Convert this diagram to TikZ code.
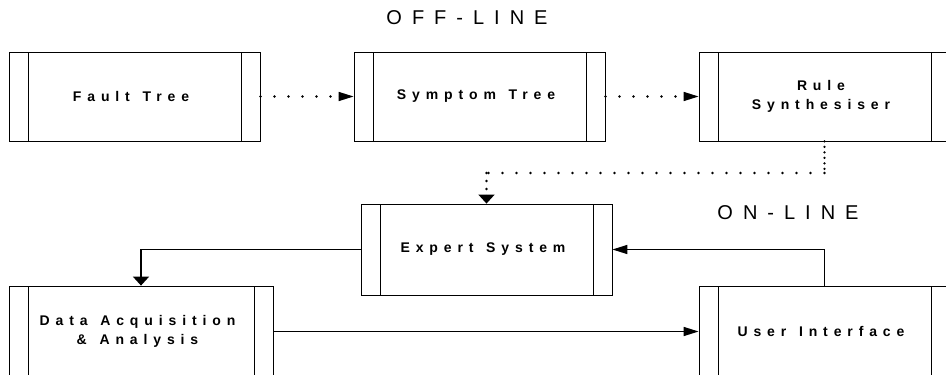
\documentclass[tikz,border=0pt]{standalone}
\usepackage{fontspec}
\setmainfont{Liberation Sans}
\newfontfamily\boxfont{Liberation Sans}[UprightFont=* Bold, LetterSpace=42, WordSpace=1.3]
\newfontfamily\headfont{Liberation Sans}[LetterSpace=50]
\usetikzlibrary{arrows.meta}

\tikzset{
  procbox/.style={draw, line width=0.8pt, minimum width=251pt, minimum height=89pt,
    inner sep=0pt, align=center,
    font=\boxfont\fontsize{14}{19}\selectfont,
    path picture={
      \draw[line width=0.8pt]
        ([xshift=19pt]path picture bounding box.north west) --
        ([xshift=19pt]path picture bounding box.south west);
      \draw[line width=0.8pt]
        ([xshift=-19pt]path picture bounding box.north east) --
        ([xshift=-19pt]path picture bounding box.south east);
    }},
  heading/.style={font=\headfont\fontsize{20}{24}\selectfont, inner sep=0pt},
  link/.style={line width=1.5pt},
  dotsh/.style={line width=2.8pt, line cap=round, dash pattern=on 0pt off 14pt},
  dotsv/.style={line width=2.6pt, line cap=round, dash pattern=on 0pt off 5.5pt},
  tiph/.style={-{Triangle[length=15pt,width=9pt]}},
  tipv/.style={-{Triangle[length=9pt,width=16pt]}},
}
% trailing pad that biases each centred label line slightly to the left
\newcommand{\trk}{\kern7pt}

\begin{document}
\begin{tikzpicture}[x=1pt,y=-1pt]
  \useasboundingbox (0,0) rectangle (946,375);
  \clip (0,0) rectangle (946,375);

  % off-line chain
  \node[procbox] (ft) at (134.5,96.5) {Fault Tree\trk};
  \node[procbox] (st) at (479.5,96.5) {Symptom Tree\trk};
  \node[procbox] (rs) at (824.5,96.5) {Rule\trk\\Synthesiser\trk};

  % on-line loop
  \node[procbox, minimum height=91pt] (es) at (486.5,249.5) {Expert System\trk};
  \node[procbox, minimum height=91pt, minimum width=264pt] (da) at (141,331.5)
    {Data Acquisition\trk\\\& Analysis\trk};
  \node[procbox, minimum height=91pt] (ui) at (824.5,331.5) {User Interface\trk};

  \node[heading] (off) at (467,18) {OFF-LINE};
  \node[heading] (on) at (788,213) {ON-LINE};

  % dotted off-line links, tips drawn solid
  \draw[dotsh] (ft.east) -- ([xshift=-12pt]st.west);
  \draw[line width=1.5pt, tiph] ([xshift=-15pt]st.west) -- (st.west);
  \draw[dotsh] (st.east) -- ([xshift=-12pt]rs.west);
  \draw[line width=1.5pt, tiph] ([xshift=-15pt]rs.west) -- (rs.west);

  \coordinate (c1) at (rs.south |- 0,173);
  \coordinate (c2) at (es.north |- 0,173);
  \draw[dotsv] (rs.south) -- (c1);
  \draw[dotsh] (c1) -- (c2);
  \draw[dotsv, dash pattern=on 0pt off 8pt] (c2) -- ([yshift=8pt]es.north);
  \draw[line width=1.5pt, tipv] ([yshift=9pt]es.north) -- (es.north);

  % solid on-line links
  \draw[link, tipv] (es.west) -| (da.north);
  \draw[link, tiph] (da.east) -- (ui.west);
  \draw[link, tiph] (ui.north) |- (es.east);
\end{tikzpicture}
\end{document}
